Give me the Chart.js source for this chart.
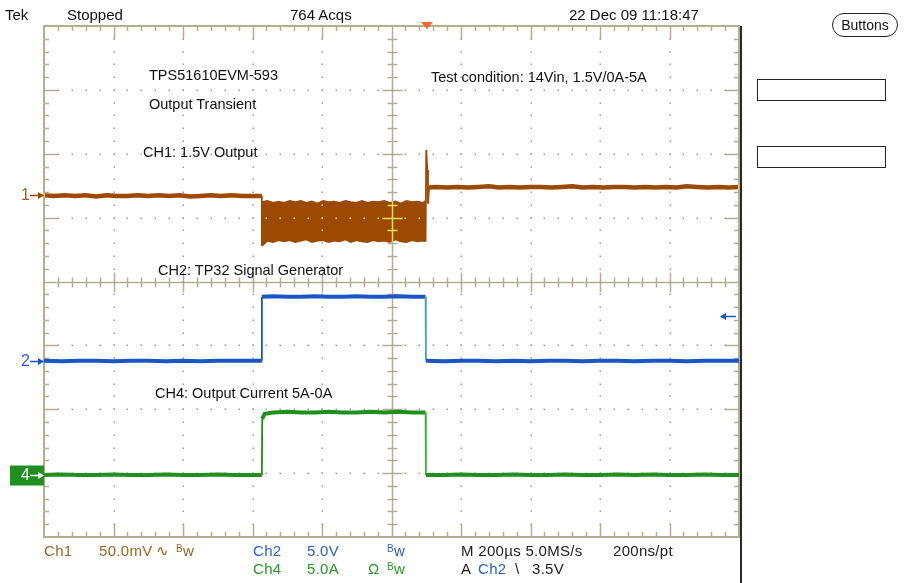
<!DOCTYPE html>
<html>
<head>
<meta charset="utf-8">
<title>TPS51610EVM-593 Output Transient</title>
<script src="https://cdn.jsdelivr.net/npm/chart.js@4.4.1/dist/chart.umd.min.js"></script>
<style>
body{margin:0;background:#fff;width:911px;height:583px;overflow:hidden;position:relative;font-family:"Liberation Sans",Arial,sans-serif;}
#scope{position:absolute;left:0;top:0;}
.t{position:absolute;white-space:nowrap;line-height:1;transform:translateY(-50%);}
.hdr{font-size:15px;color:#111;}
.ftr{font-size:15px;letter-spacing:0.3px;}
.note{font-size:14.5px;color:#111;}
.c1{color:#a5621f}.c2{color:#2a62c6}.c4{color:#239a23}.dk{color:#222}
.bw sup{font-size:10px;vertical-align:4px;}
.mk{font-size:16px;}
#btn{position:absolute;left:832px;top:13px;width:64px;height:22px;border:1.5px solid #222;border-radius:12px;font-size:14px;text-align:center;line-height:22px;color:#111;}
.box{position:absolute;left:757px;width:127px;height:20px;border:1.5px solid #222;}
</style>
</head>
<body>
<canvas id="scope" width="911" height="583"></canvas>

<div class="t hdr" style="left:5px;top:14px">Tek</div>
<div class="t hdr" style="left:67px;top:14px">Stopped</div>
<div class="t hdr" style="left:290px;top:14px">764 Acqs</div>
<div class="t hdr" style="left:569px;top:14px">22 Dec 09 11:18:47</div>
<div id="btn">Buttons</div>
<div class="box" style="top:79px"></div>
<div class="box" style="top:146px"></div>

<div class="t note" style="left:149px;top:75px">TPS51610EVM-593</div>
<div class="t note" style="left:149px;top:104px">Output Transient</div>
<div class="t note" style="left:143px;top:152px">CH1: 1.5V Output</div>
<div class="t note" style="left:431px;top:77px">Test condition: 14Vin, 1.5V/0A-5A</div>
<div class="t note" style="left:158px;top:270px">CH2: TP32 Signal Generator</div>
<div class="t note" style="left:155px;top:393px">CH4: Output Current 5A-0A</div>

<div class="t mk c1" id="m1" style="left:21px">1</div>
<div class="t mk c2" id="m2" style="left:21px">2</div>
<div class="t mk" id="m4" style="left:21px;color:#fff">4</div>

<div class="t ftr c1" style="left:44px;top:550px">Ch1</div>
<div class="t ftr c1" style="left:99px;top:550px">50.0mV</div>
<div class="t ftr c1" style="left:156px;top:550px">&#x223F;</div>
<div class="t ftr c1 bw" style="left:176px;top:550px"><sup>B</sup>w</div>
<div class="t ftr c2" style="left:253px;top:550px">Ch2</div>
<div class="t ftr c2" style="left:307px;top:550px">5.0V</div>
<div class="t ftr c2 bw" style="left:387px;top:550px"><sup>B</sup>w</div>
<div class="t ftr c4" style="left:253px;top:568px">Ch4</div>
<div class="t ftr c4" style="left:307px;top:568px">5.0A</div>
<div class="t ftr c4" style="left:368px;top:568px">&#x3A9;</div>
<div class="t ftr c4 bw" style="left:387px;top:568px"><sup>B</sup>w</div>
<div class="t ftr dk" style="left:461px;top:550px">M 200µs 5.0MS/s</div>
<div class="t ftr dk" style="left:613px;top:550px">200ns/pt</div>
<div class="t ftr dk" style="left:461px;top:568px">A</div>
<div class="t ftr c2" style="left:478px;top:568px">Ch2</div>
<div class="t ftr dk" style="left:515px;top:568px">\</div>
<div class="t ftr dk" style="left:532px;top:568px">3.5V</div>

<script>
// time in µs across 10 divisions (200 µs/div), levels in screen divisions
const ch1PreTime  = [0, 30, 60, 90, 120, 150, 180, 210, 240, 270, 300, 330, 360, 390, 420, 450, 480, 510, 540, 570, 600, 627, 627];
const ch1PreLevel = [1.35, 1.34, 1.35, 1.34, 1.35, 1.33, 1.35, 1.34, 1.34, 1.35, 1.34, 1.35, 1.34, 1.35, 1.33, 1.34, 1.35, 1.34, 1.35, 1.34, 1.34, 1.34, 0.56];

const bandTime   = [627, 643, 659, 675, 691, 707, 723, 739, 755, 771, 787, 803, 819, 835, 851, 867, 883, 899, 915, 931, 947, 963, 979, 995, 1011, 1027, 1043, 1059, 1075, 1091, 1098];
const bandTop    = [1.24, 1.26, 1.23, 1.25, 1.23, 1.26, 1.24, 1.26, 1.23, 1.25, 1.22, 1.26, 1.24, 1.25, 1.23, 1.26, 1.24, 1.23, 1.26, 1.23, 1.25, 1.24, 1.26, 1.23, 1.25, 1.22, 1.26, 1.24, 1.25, 1.23, 1.26];
const bandBottom = [0.56, 0.64, 0.62, 0.65, 0.63, 0.65, 0.62, 0.64, 0.66, 0.62, 0.64, 0.65, 0.62, 0.64, 0.63, 0.66, 0.62, 0.65, 0.63, 0.62, 0.65, 0.63, 0.64, 0.62, 0.66, 0.63, 0.62, 0.65, 0.63, 0.64, 0.63];

const ch1PostTime  = [1098, 1100, 1103, 1105, 1108, 1130, 1160, 1190, 1220, 1250, 1280, 1310, 1340, 1370, 1400, 1430, 1460, 1490, 1520, 1550, 1580, 1610, 1640, 1670, 1700, 1730, 1760, 1790, 1820, 1850, 1880, 1910, 1940, 1970, 2000];
const ch1PostLevel = [0.63, 2.06, 1.75, 1.22, 1.47, 1.48, 1.47, 1.48, 1.47, 1.48, 1.49, 1.47, 1.48, 1.47, 1.48, 1.48, 1.47, 1.48, 1.49, 1.47, 1.48, 1.47, 1.48, 1.48, 1.47, 1.48, 1.47, 1.48, 1.47, 1.49, 1.48, 1.47, 1.48, 1.47, 1.48];

const ch2Time  = [0, 50, 100, 150, 200, 250, 300, 350, 400, 450, 500, 550, 600, 627, 627, 660, 700, 740, 780, 820, 860, 900, 940, 980, 1020, 1060, 1098, 1099, 1150, 1200, 1250, 1300, 1350, 1400, 1450, 1500, 1550, 1600, 1650, 1700, 1750, 1800, 1850, 1900, 1950, 2000];
const ch2Level = [-1.24, -1.25, -1.24, -1.24, -1.25, -1.24, -1.24, -1.25, -1.24, -1.25, -1.24, -1.24, -1.24, -1.24, -0.24, -0.23, -0.24, -0.24, -0.23, -0.24, -0.24, -0.23, -0.24, -0.24, -0.23, -0.24, -0.24, -1.24, -1.25, -1.24, -1.24, -1.25, -1.24, -1.25, -1.24, -1.24, -1.25, -1.24, -1.24, -1.25, -1.24, -1.24, -1.25, -1.24, -1.24, -1.24];

const ch4Time  = [0, 50, 100, 150, 200, 250, 300, 350, 400, 450, 500, 550, 600, 627, 628, 635, 660, 700, 740, 780, 820, 860, 900, 940, 980, 1020, 1060, 1098, 1099, 1150, 1200, 1250, 1300, 1350, 1400, 1450, 1500, 1550, 1600, 1650, 1700, 1750, 1800, 1850, 1900, 1950, 2000];
const ch4Level = [-3.03, -3.02, -3.03, -3.03, -3.02, -3.03, -3.03, -3.02, -3.03, -3.03, -3.02, -3.03, -3.03, -3.03, -2.15, -2.07, -2.05, -2.04, -2.05, -2.05, -2.04, -2.05, -2.05, -2.04, -2.05, -2.04, -2.05, -2.05, -3.03, -3.03, -3.02, -3.03, -3.03, -3.02, -3.03, -3.03, -3.02, -3.03, -3.03, -3.02, -3.03, -3.02, -3.03, -3.03, -3.02, -3.03, -3.03];

// channel ground markers (div), trigger position (µs) and level (div)
const markerLevels = [1.35, -1.24, -3.03];
const triggerTime = 1102;
const triggerLevel = -1.24 + 3.5 / 5.0;

const CH1 = '#9c4a02', CH2 = '#1a56c4', CH4 = '#1f8f1f';
const GRID = '#b5ad90';

function pts(t, v){ return t.map((x, i) => ({x, y: v[i]})); }

// edges are thin, falling edges get a lighter tint
function edgeStyle(fall){
  return {
    borderColor: c => (c.p0.parsed.y - c.p1.parsed.y > 0.5 ? fall : undefined),
    borderWidth: c => (Math.abs(c.p1.parsed.y - c.p0.parsed.y) > 0.2 ? 1.8 : undefined)
  };
}

function drawGraticule(chart, color, dotColor){
  const {ctx, chartArea: a, scales: {x, y}} = chart;
  ctx.save();
  // dotted division lines
  ctx.fillStyle = dotColor;
  for(let d = 1; d < 10; d++){
    if(d === 5) continue;
    const px = Math.round(x.getPixelForValue(d * 200));
    for(let k = 1; k < 40; k++){
      const py = Math.round(y.getPixelForValue(-4 + k * 0.2));
      ctx.fillRect(px - 0.5, py - 0.5, 1.5, 1.5);
    }
  }
  for(let d = -3; d <= 3; d++){
    if(d === 0) continue;
    const py = Math.round(y.getPixelForValue(d));
    for(let k = 1; k < 50; k++){
      const px = Math.round(x.getPixelForValue(k * 40));
      ctx.fillRect(px - 0.5, py - 0.5, 1.5, 1.5);
    }
  }
  ctx.strokeStyle = color;
  ctx.lineWidth = 2;
  ctx.strokeRect(a.left, a.top, a.right - a.left, a.bottom - a.top);
  const cx = Math.round(x.getPixelForValue(1000)) + 0.5;
  const cy = Math.round(y.getPixelForValue(0)) + 0.5;
  ctx.lineWidth = 1.5;
  ctx.beginPath();
  ctx.moveTo(cx, a.top); ctx.lineTo(cx, a.bottom);
  ctx.moveTo(a.left, cy); ctx.lineTo(a.right, cy);
  // ticks along time axis
  for(let k = 1; k < 50; k++){
    const px = Math.round(x.getPixelForValue(k * 40)) + 0.5;
    const major = k % 5 === 0;
    const e = major ? 13 : 5, c = major ? 10 : 5;
    ctx.moveTo(px, a.top); ctx.lineTo(px, a.top + e);
    ctx.moveTo(px, a.bottom); ctx.lineTo(px, a.bottom - e);
    ctx.moveTo(px, cy - c); ctx.lineTo(px, cy + c);
  }
  // ticks along level axis
  for(let k = 1; k < 40; k++){
    const py = Math.round(y.getPixelForValue(-4 + k * 0.2)) + 0.5;
    const major = k % 5 === 0;
    const e = major ? 14 : 5, c = major ? 10 : 5;
    ctx.moveTo(a.left, py); ctx.lineTo(a.left + e, py);
    ctx.moveTo(a.right, py); ctx.lineTo(a.right - e, py);
    ctx.moveTo(cx - c, py); ctx.lineTo(cx + c, py);
  }
  ctx.stroke();
  ctx.restore();
}

function arrow(ctx, x0, x1, py, color){
  ctx.strokeStyle = color; ctx.fillStyle = color; ctx.lineWidth = 1.5;
  ctx.beginPath(); ctx.moveTo(x0, py); ctx.lineTo(x1, py); ctx.stroke();
  const dir = x1 > x0 ? 1 : -1;
  ctx.beginPath();
  ctx.moveTo(x1 + dir * 1, py); ctx.lineTo(x1 - dir * 5, py - 3.5); ctx.lineTo(x1 - dir * 5, py + 3.5);
  ctx.closePath(); ctx.fill();
}

const scopePlugin = {
  id: 'scope',
  afterDatasetDraw(chart, args){
    // graticule shows through the ch1 trace in yellow
    if(args.index !== 2) return;
    const ctx = chart.ctx;
    ctx.save();
    ctx.globalCompositeOperation = 'source-atop';
    drawGraticule(chart, '#e8dc5c', '#e8dc5c');
    ctx.restore();
  },
  afterDatasetsDraw(chart){
    const ctx = chart.ctx;
    ctx.save();
    ctx.globalCompositeOperation = 'destination-over';
    drawGraticule(chart, GRID, '#a09c90');
    ctx.restore();
  },
  afterDraw(chart){
    const {ctx, chartArea: a, scales: {x, y}} = chart;
    ctx.save();
    // instrument right frame
    ctx.strokeStyle = '#2a2a2a'; ctx.lineWidth = 2;
    ctx.beginPath(); ctx.moveTo(a.right + 2, a.top); ctx.lineTo(a.right + 2, 583); ctx.stroke();
    // trigger position
    const tx = x.getPixelForValue(triggerTime);
    ctx.fillStyle = '#f06a2a';
    ctx.beginPath(); ctx.moveTo(tx - 6, a.top - 4); ctx.lineTo(tx + 6, a.top - 4); ctx.lineTo(tx, a.top + 3); ctx.closePath(); ctx.fill();
    // trigger level
    arrow(ctx, a.right - 3, a.right - 18, Math.round(y.getPixelForValue(triggerLevel)) + 0.5, CH2);
    // channel markers
    const p = markerLevels.map(v => Math.round(y.getPixelForValue(v)) + 0.5);
    arrow(ctx, a.left - 14, a.left - 1, p[0], CH1);
    arrow(ctx, a.left - 14, a.left - 1, p[1], CH2);
    ctx.fillStyle = CH4;
    ctx.fillRect(10, p[2] - 10, a.left - 10, 20);
    arrow(ctx, a.left - 14, a.left - 1, p[2], '#fff');
    ctx.restore();
  }
};

const chart = new Chart(document.getElementById('scope'), {
  type: 'line',
  data: {
    datasets: [
      {label: 'CH2', data: pts(ch2Time, ch2Level), borderColor: CH2, borderWidth: 4, segment: edgeStyle('#48a8b8')},
      {label: 'CH4', data: pts(ch4Time, ch4Level), borderColor: CH4, borderWidth: 4, segment: edgeStyle('#3cb43c')},
      {label: 'CH1', data: pts(ch1PreTime, ch1PreLevel), borderColor: CH1, borderWidth: 4.5, segment: edgeStyle(CH1)},
      {label: 'CH1 after', data: pts(ch1PostTime, ch1PostLevel), borderColor: CH1, borderWidth: 4.5, segment: edgeStyle(CH1)},
      {label: 'CH1 ripple top', data: pts(bandTime, bandTop), borderColor: CH1, borderWidth: 2},
      {label: 'CH1 ripple bottom', data: pts(bandTime, bandBottom), borderColor: CH1, borderWidth: 2, fill: '-1', backgroundColor: CH1}
    ]
  },
  options: {
    responsive: false,
    animation: false,
    events: [],
    parsing: false,
    layout: {padding: {left: 44, top: 26, right: 172, bottom: 46}},
    elements: {point: {radius: 0}, line: {tension: 0, borderCapStyle: 'butt', borderJoinStyle: 'miter'}},
    scales: {
      x: {type: 'linear', min: 0, max: 2000, display: false},
      y: {type: 'linear', min: -4, max: 4, display: false}
    },
    plugins: {legend: {display: false}, tooltip: {enabled: false}}
  },
  plugins: [scopePlugin]
});

// place the channel numbers on their ground levels
['m1', 'm2', 'm4'].forEach((id, i) => {
  document.getElementById(id).style.top = chart.scales.y.getPixelForValue(markerLevels[i]) + 'px';
});
</script>
</body>
</html>
